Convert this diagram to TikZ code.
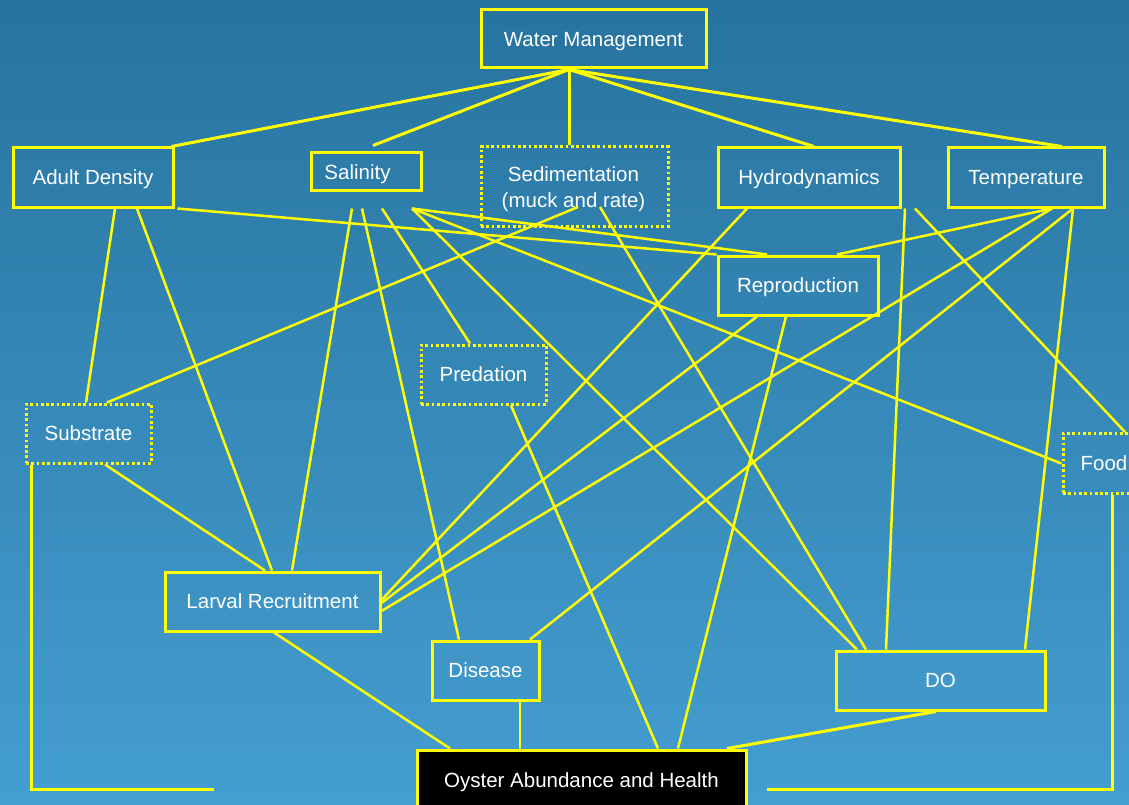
\documentclass[tikz,border=0pt]{standalone}
\usepackage{fontspec}
\setmainfont{Liberation Sans}
\usetikzlibrary{calc}
\definecolor{bgtop}{RGB}{39,115,159}
\definecolor{bgbot}{RGB}{68,158,208}
\definecolor{ylw}{RGB}{255,255,0}
\begin{document}
\begin{tikzpicture}[x=1pt,y=-1pt,
  lbl/.style={text=white, inner sep=0pt, font=\fontsize{20.5}{26}\selectfont, align=center, text height=14.7pt, text depth=0pt},
  box/.style={lbl, draw=ylw, line width=3pt},
  dotbox/.style={box, line width=3pt, dash pattern=on 2.7pt off 2.6pt},
  link/.style={draw=ylw, line width=2.5pt},
  wlink/.style={link, line width=3pt}]
\useasboundingbox (0,0) rectangle (1129,805);
\shade[top color=bgtop, bottom color=bgbot] (0,0) rectangle (1129,805);

% nodes
\node[box, minimum width=225pt, minimum height=58pt] (wm) at (593.5,39) {Water Management};
\node[box, minimum width=160pt, minimum height=59pt] (ad) at (93,177.5) {Adult Density};
\node[box, minimum width=110pt, minimum height=38pt] (sal) at (366,172) {};
\node[lbl] (saltxt) at (357.5,172) {Salinity};
\node[dotbox, minimum width=187pt, minimum height=79pt] (sed) at (574.5,186.5) {};
\node[lbl, text height=, text depth=] (sedtxt) at (573.5,189) {Sedimentation\\(muck and rate)};
\node[box, minimum width=182pt, minimum height=59pt] (hyd) at (809,177.5) {Hydrodynamics};
\node[box, minimum width=156pt, minimum height=59pt] (tmp) at (1026,177.5) {Temperature};
\node[box, minimum width=160pt, minimum height=59pt] (rep) at (798,285.5) {Reproduction};
\node[dotbox, minimum width=125pt, minimum height=59pt] (pred) at (483.5,374.5) {Predation};
\node[dotbox, minimum width=125pt, minimum height=59pt] (sub) at (88.5,433.5) {Substrate};
\node[dotbox, minimum width=82pt, minimum height=60pt] (food) at (1104,463.5) {Food};
\node[box, minimum width=215pt, minimum height=59pt] (lar) at (272.5,601.5) {Larval Recruitment};
\node[box, minimum width=107pt, minimum height=59pt] (dis) at (485.5,670.5) {Disease};
\node[box, minimum width=209pt, minimum height=59pt] (do) at (940.5,680.5) {DO};
\node[box, fill=black, minimum width=329pt, minimum height=60pt] (osh) at (581.5,780) {Oyster Abundance and Health};

\coordinate (subend) at (214,789);
\coordinate (foodend) at (767,789);

% Water Management
\draw[wlink] ([xshift=-24.5pt]wm.south) -- ([xshift=-3pt]ad.north east);
\draw[wlink] ([xshift=-24.5pt]wm.south) -- ([xshift=7pt,yshift=6pt]sal.north);
\draw[wlink] ([xshift=-24.5pt]wm.south) -- ([xshift=-5.5pt]sed.north);
\draw[wlink] ([xshift=-24.5pt]wm.south) -- ([xshift=5pt]hyd.north);
\draw[wlink] ([xshift=-24.5pt]wm.south) -- ([xshift=36pt]tmp.north);

% Adult Density
\draw[link] ([xshift=22pt]ad.south) -- ([xshift=-2.5pt]sub.north);
\draw[link] ([xshift=44pt]ad.south) -- ([xshift=-0.5pt]lar.north);
\draw[link] ([xshift=3pt]ad.south east) -- (rep.north west);

% Salinity
\draw[link] ([xshift=-14pt,yshift=-16pt]sal.south) -- ([xshift=19.5pt]lar.north);
\draw[link] ([xshift=-4pt,yshift=-16pt]sal.south) -- ([xshift=-26.5pt]dis.north);
\draw[link] ([xshift=16pt,yshift=-16pt]sal.south) -- ([xshift=-13.5pt]pred.north);
\draw[link] ([xshift=46pt,yshift=-16pt]sal.south) -- ([xshift=-31pt]rep.north);
\draw[link] ([xshift=46pt,yshift=-16pt]sal.south) -- (food.west);
\draw[link] ([xshift=46pt,yshift=-16pt]sal.south) -- ([xshift=-83.5pt]do.north);

% Sedimentation
\draw[link] ([xshift=3.5pt,yshift=-20.5pt]sed.center) -- ([xshift=18.5pt]sub.north);
\draw[link] ([xshift=25.5pt,yshift=-20.5pt]sed.center) -- ([xshift=-74.5pt]do.north);

% Hydrodynamics
\draw[link] ([xshift=-62pt]hyd.south) -- ([yshift=1.5pt]lar.east);
\draw[link] ([xshift=96pt]hyd.south) -- ([xshift=-54.5pt]do.north);
\draw[link] ([xshift=106pt]hyd.south) -- ([xshift=21pt]food.north);

% Temperature
\draw[link] ([xshift=26pt]tmp.south) -- ([xshift=39pt]rep.north);
\draw[link] ([xshift=26pt]tmp.south) -- ([yshift=-9.5pt]lar.east);
\draw[link] ([xshift=47pt]tmp.south) -- ([xshift=44.5pt]dis.north);
\draw[link] ([xshift=47pt]tmp.south) -- ([xshift=84.5pt]do.north);

% Reproduction
\draw[link] ([xshift=-41pt]rep.south) -- ([yshift=-1.5pt]lar.east);
\draw[link] ([xshift=-12pt]rep.south) -- ([xshift=96.5pt]osh.north);

% Predation
\draw[link] ([xshift=27.5pt]pred.south) -- ([xshift=76.5pt]osh.north);

% Substrate
\draw[link] ([xshift=16.5pt]sub.south) -- ([xshift=-7.5pt]lar.north);
\draw[wlink] ([xshift=7pt]sub.south west) |- (subend);

% Larval, Disease, DO
\draw[link] ([xshift=1.5pt]lar.south) -- ([xshift=-131.5pt]osh.north);
\draw[link] ([xshift=34.5pt]dis.south) -- ([xshift=-61.5pt]osh.north);
\draw[wlink] ([xshift=-4.5pt]do.south) -- ([xshift=145.5pt]osh.north);

% Food
\draw[wlink] ([xshift=8pt]food.south) |- (foodend);
\end{tikzpicture}
\end{document}
